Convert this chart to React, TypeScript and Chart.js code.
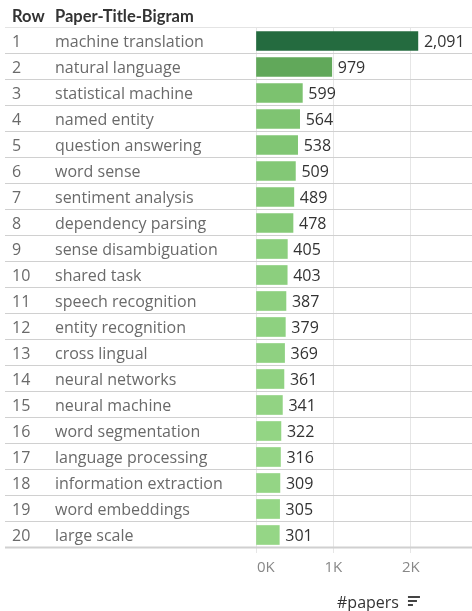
import React, { useEffect, useRef } from "react";
import { Chart, registerables } from "chart.js";

Chart.register(...registerables);

const rows = ["1","2","3","4","5","6","7","8","9","10","11","12","13","14","15","16","17","18","19","20"];
const bigrams = [
  "machine translation","natural language","statistical machine","named entity","question answering",
  "word sense","sentiment analysis","dependency parsing","sense disambiguation","shared task",
  "speech recognition","entity recognition","cross lingual","neural networks","neural machine",
  "word segmentation","language processing","information extraction","word embeddings","large scale",
];
const papers = [2091,979,599,564,538,509,489,478,405,403,387,379,369,361,341,322,316,309,305,301];
const tickValues = [0, 1000, 2000];
const tickLabels = ["0K", "1K", "2K"];
const headerRow = "Row";
const headerBigram = "Paper-Title-Bigram";
const axisTitle = "#papers";

const FONT = "'Open Sans', Lato, sans-serif";
const HEADER_FONT = "Lato, 'Open Sans', sans-serif";

// sequential green palette stops (t in 0..1)
const stops: [number, number[]][] = [
  [0, [0x95, 0xd6, 0x86]],
  [0.166, [0x7c, 0xc2, 0x6f]],
  [0.38, [0x61, 0xa8, 0x5a]],
  [1, [0x24, 0x6b, 0x3f]],
];
function colorFor(v: number, min: number, max: number) {
  const t = (v - min) / (max - min);
  for (let i = 1; i < stops.length; i++) {
    if (t <= stops[i][0]) {
      const [t0, c0] = stops[i - 1];
      const [t1, c1] = stops[i];
      const f = (t - t0) / (t1 - t0);
      const c = c0.map((a, k) => Math.round(a + (c1[k] - a) * f));
      return `rgb(${c[0]},${c[1]},${c[2]})`;
    }
  }
  const c = stops[stops.length - 1][1];
  return `rgb(${c[0]},${c[1]},${c[2]})`;
}

export default function App() {
  const ref = useRef<HTMLCanvasElement>(null);
  useEffect(() => {
    document.body.style.margin = "0";
    const min = Math.min(...papers);
    const max = Math.max(...papers);
    const tablePlugin = {
      id: "table",
      beforeDatasetsDraw(chart: any) {
        const ctx = chart.ctx;
        const y = chart.scales.y;
        const area = chart.chartArea;
        ctx.save();
        const half = (y.getPixelForValue(1) - y.getPixelForValue(0)) / 2;
        for (let i = 0; i <= rows.length; i++) {
          const py = (i === 0 ? y.getPixelForValue(0) - half : y.getPixelForValue(i - 1) + half) - 1;
          ctx.beginPath();
          ctx.lineWidth = i === rows.length ? 2 : 1;
          ctx.strokeStyle = i === 0 ? "#e4e4e4" : "#d0d0d0";
          ctx.moveTo(5, Math.round(py) + 0.5);
          ctx.lineTo(area.right, Math.round(py) + 0.5);
          ctx.stroke();
        }
        ctx.restore();
      },
      afterDatasetsDraw(chart: any) {
        const ctx = chart.ctx;
        const y = chart.scales.y;
        const x = chart.scales.x;
        const area = chart.chartArea;
        ctx.save();
        ctx.textBaseline = "middle";
        ctx.font = `16px ${FONT}`;
        rows.forEach((r, i) => {
          const py = y.getPixelForValue(i) + 1;
          ctx.fillStyle = "#6a6a6a";
          ctx.fillText(r, 12, py);
          ctx.fillText(bigrams[i], 55, py);
          ctx.fillStyle = "#333333";
          ctx.fillText(papers[i].toLocaleString("en-US"), x.getPixelForValue(papers[i]) + 6, py);
        });
        ctx.font = `bold 16.5px ${HEADER_FONT}`;
        ctx.fillStyle = "#333333";
        ctx.fillText(headerRow, 12, 17);
        ctx.fillText(headerBigram, 55, 17);
        // x tick labels
        ctx.font = `15px ${FONT}`;
        ctx.fillStyle = "#888888";
        tickValues.forEach((v, i) => {
          const px = x.getPixelForValue(v);
          ctx.textAlign = i === 0 ? "left" : "center";
          ctx.fillText(tickLabels[i], i === 0 ? px + 1 : px, area.bottom + 20);
        });
        // axis title
        ctx.textAlign = "left";
        ctx.font = `16px ${FONT}`;
        ctx.fillStyle = "#333333";
        ctx.fillText(axisTitle, 337, 603);
        const w = ctx.measureText(axisTitle).width;
        const ix = 337 + w + 9;
        ctx.fillStyle = "#444444";
        ctx.fillRect(ix, 596, 12, 2);
        ctx.fillRect(ix, 600, 9, 2);
        ctx.fillRect(ix, 604, 5, 2);
        ctx.restore();
      },
    };
    const chart = new Chart(ref.current!, {
      type: "bar",
      data: {
        labels: bigrams,
        datasets: [
          {
            data: papers,
            backgroundColor: papers.map((v) => colorFor(v, min, max)),
            barThickness: 19,
          },
        ],
      },
      options: {
        indexAxis: "y",
        animation: false,
        responsive: false,
        layout: { padding: { left: 256, top: 28, right: 0, bottom: 0 } },
        plugins: { legend: { display: false }, tooltip: { enabled: false } },
        scales: {
          y: { display: false, offset: true },
          x: {
            min: 0,
            max: 2790,
            afterBuildTicks: (scale: any) => {
              scale.ticks = tickValues.map((v) => ({ value: v }));
            },
            afterFit: (scale: any) => {
              scale.height = 63;
            },
            ticks: { display: false },
            grid: { color: "#e6e6e6", tickLength: 5, drawOnChartArea: true },
            border: { display: false },
          },
        },
      },
      plugins: [tablePlugin],
    });
    return () => chart.destroy();
  }, []);
  return <canvas ref={ref} width={472} height={611} style={{ display: "block" }} />;
}
